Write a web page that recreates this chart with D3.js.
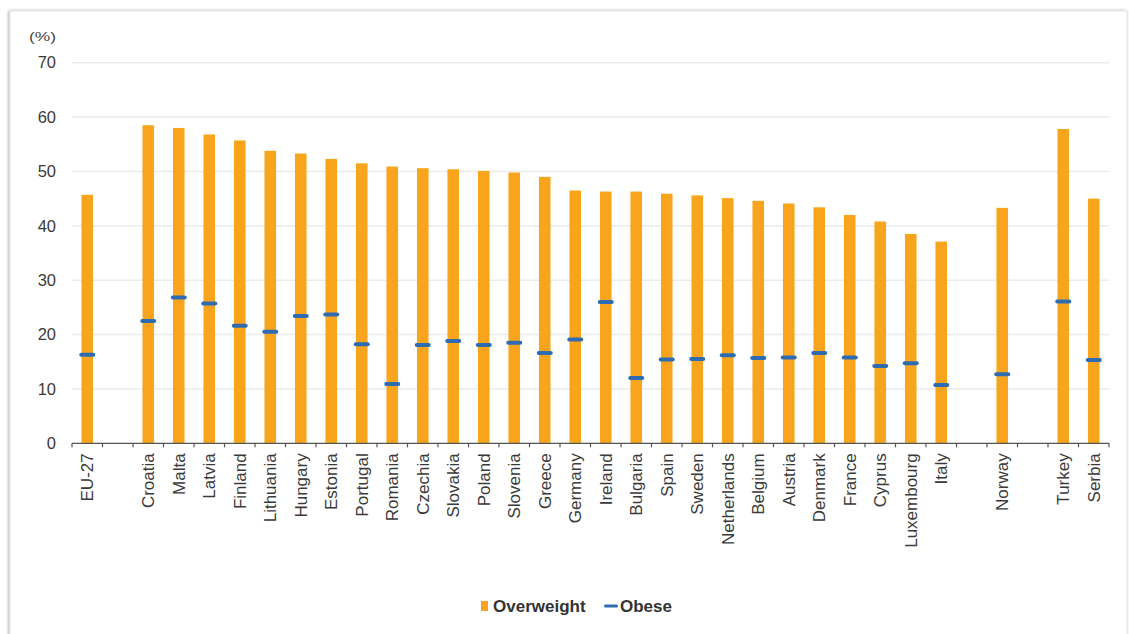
<!DOCTYPE html>
<html>
<head>
<meta charset="utf-8">
<script src="https://cdn.jsdelivr.net/npm/d3@7"></script>
<style>
  html, body { margin: 0; padding: 0; background: #fff; }
  svg { display: block; font-family: "Liberation Sans", Arial, sans-serif; }
</style>
</head>
<body>
<svg id="chart" width="1129" height="634"></svg>
<script>
// Categories (blank slots are gaps between groups)
const categories = ["EU-27", "", "Croatia", "Malta", "Latvia", "Finland", "Lithuania", "Hungary", "Estonia",
  "Portugal", "Romania", "Czechia", "Slovakia", "Poland", "Slovenia", "Greece", "Germany", "Ireland",
  "Bulgaria", "Spain", "Sweden", "Netherlands", "Belgium", "Austria", "Denmark", "France", "Cyprus",
  "Luxembourg", "Italy", " ", "Norway", "  ", "Turkey", "Serbia"];
const overweight = [45.7, null, 58.5, 58.0, 56.8, 55.7, 53.8, 53.3, 52.3,
  51.5, 50.9, 50.6, 50.4, 50.1, 49.8, 49.0, 46.5, 46.3,
  46.3, 45.9, 45.6, 45.1, 44.6, 44.1, 43.4, 42.0, 40.8,
  38.5, 37.1, null, 43.3, null, 57.8, 45.0];
const obese = [16.3, null, 22.5, 26.8, 25.7, 21.6, 20.5, 23.4, 23.7,
  18.2, 10.9, 18.1, 18.8, 18.1, 18.5, 16.6, 19.1, 26.0,
  12.0, 15.4, 15.5, 16.2, 15.7, 15.8, 16.6, 15.8, 14.2,
  14.7, 10.7, null, 12.7, null, 26.1, 15.3];
const yTicks = [0, 10, 20, 30, 40, 50, 60, 70];
const legendLabels = ["Overweight", "Obese"];

const svg = d3.select("#chart");
const ORANGE = "#f8a51d", BLUE = "#2d6cb2";

// Frame with soft shadow
const defs = svg.append("defs");
const f = defs.append("filter").attr("id", "sh").attr("x", "-5%").attr("y", "-5%").attr("width", "110%").attr("height", "110%");
f.append("feGaussianBlur").attr("in", "SourceAlpha").attr("stdDeviation", 1.5).attr("result", "b");
f.append("feOffset").attr("in", "b").attr("dx", -1).attr("dy", 0).attr("result", "o");
f.append("feComponentTransfer").append("feFuncA").attr("type", "linear").attr("slope", 0.35);
const fm = f.append("feMerge");
fm.append("feMergeNode");
fm.append("feMergeNode").attr("in", "SourceGraphic");
svg.append("rect").attr("x", 10).attr("y", 11).attr("width", 1117).attr("height", 640)
  .attr("fill", "#fff").attr("stroke", "#e2e2e2").attr("stroke-width", 1).attr("filter", "url(#sh)");

const x0 = 72, x1 = 1109, yTop = 62.7, yBot = 443.3;
const x = d3.scaleBand().domain(categories.map((c, i) => i)).range([x0, x1])
  .paddingInner(0.62).paddingOuter(0.31);
const y = d3.scaleLinear().domain([0, 70]).range([yBot, yTop]);

// Gridlines
svg.append("g").selectAll("line").data(yTicks.filter(t => t > 0)).join("line")
  .attr("x1", x0).attr("x2", x1).attr("y1", d => y(d)).attr("y2", d => y(d))
  .attr("stroke", "#ebebeb").attr("stroke-width", 1.5);

// Y axis labels
const yAxis = d3.axisLeft(y).tickValues(yTicks).tickSize(0).tickPadding(0);
const gy = svg.append("g").attr("transform", `translate(${x0 - 16},0)`).call(yAxis);
gy.select(".domain").remove();
gy.selectAll("text").attr("font-size", 16.5).attr("fill", "#3a3a3a")
  .attr("font-family", "'Liberation Sans', Arial, sans-serif");

svg.append("text").attr("x", 29).attr("y", 41).attr("font-size", 12.5).attr("fill", "#444")
  .attr("textLength", 27).attr("lengthAdjust", "spacingAndGlyphs").text("(%)");

// Bars
const data = categories.map((c, i) => ({ i, c, ow: overweight[i], ob: obese[i] }));
svg.append("g").selectAll("rect").data(data.filter(d => d.ow != null)).join("rect")
  .attr("x", d => x(d.i)).attr("width", x.bandwidth())
  .attr("y", d => y(d.ow)).attr("height", d => y(0) - y(d.ow))
  .attr("fill", ORANGE);

// Obese markers
const mw = 16;
svg.append("g").selectAll("rect").data(data.filter(d => d.ob != null)).join("rect")
  .attr("x", d => x(d.i) + x.bandwidth() / 2 - mw / 2).attr("width", mw)
  .attr("y", d => y(d.ob) - 2).attr("height", 4).attr("rx", 2)
  .attr("fill", BLUE);

// X axis
const step = x.step();
const gx = svg.append("g").attr("transform", `translate(0,${yBot})`);
gx.append("line").attr("x1", x0).attr("x2", x1).attr("stroke", "#555").attr("stroke-width", 1.3);
gx.selectAll("line.tk").data(d3.range(categories.length + 1)).join("line").attr("class", "tk")
  .attr("x1", i => x0 + i * step).attr("x2", i => x0 + i * step)
  .attr("y1", 0).attr("y2", 4).attr("stroke", "#555").attr("stroke-width", 1.2);
const xAxis = d3.axisBottom(x).tickSize(0).tickFormat(i => categories[i].trim());
const gl = svg.append("g").attr("transform", `translate(0,${yBot})`).call(xAxis);
gl.select(".domain").remove();
gl.selectAll("text")
  .attr("font-size", 17).attr("fill", "#3a3a3a")
  .attr("font-family", "'Liberation Sans', Arial, sans-serif")
  .attr("text-anchor", "end").attr("dy", "0.35em")
  .attr("transform", "translate(0,10) rotate(-90)")
  .attr("x", 0).attr("y", 0);

// Legend
const lg = svg.append("g").attr("transform", "translate(481,606)");
lg.append("rect").attr("x", 0).attr("y", -5).attr("width", 7).attr("height", 10).attr("fill", ORANGE);
lg.append("text").attr("x", 12).attr("y", 6).attr("font-size", 17).attr("font-weight", "bold")
  .attr("fill", "#333").text(legendLabels[0]);
lg.append("rect").attr("x", 123).attr("y", -1.5).attr("width", 14).attr("height", 3).attr("rx", 1.5).attr("fill", BLUE);
lg.append("text").attr("x", 139).attr("y", 6).attr("font-size", 17).attr("font-weight", "bold")
  .attr("fill", "#333").text(legendLabels[1]);
</script>
</body>
</html>
